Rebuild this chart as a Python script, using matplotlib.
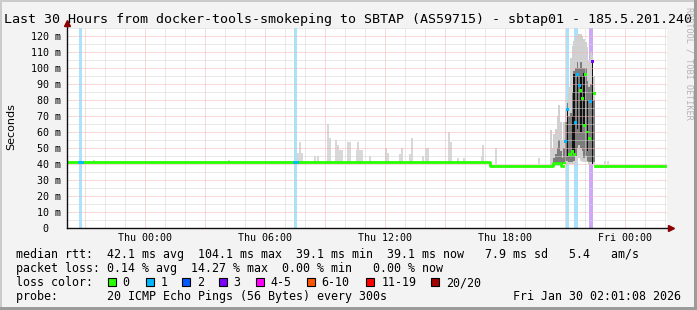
import numpy as np
import matplotlib
matplotlib.use("Agg")
import matplotlib.pyplot as plt
from matplotlib import transforms
from matplotlib.patches import Rectangle

W, H = 697, 310
MONO = "DejaVu Sans Mono"
NAN = float("nan")

title = "Last 30 Hours from docker-tools-smokeping to SBTAP (AS59715) - sbtap01 - 185.5.201.240"

# time is in hours relative to Thu 00:00 (graph runs Wed 20:01 .. Fri 02:01)
x_ticks = [0, 6, 12, 18, 24]
x_tick_labels = ["Thu 00:00", "Thu 06:00", "Thu 12:00", "Thu 18:00", "Fri 00:00"]
y_ticks = [0, 10, 20, 30, 40, 50, 60, 70, 80, 90, 100, 110, 120]

# median rtt (ms), step line outside the storm
median_t = [-3.9, 17.25, 20.38, 20.80, 20.92, 22.48, 26.02]
median_ms = [41.0, 39.0, 40.5, 38.7, NAN, 39.0, 39.0]

# isolated light smoke spikes during quiet hours (top of smoke, ms)
spike_t = [-2.6, 4.15, 7.62, 7.72, 7.80, 8.45, 8.6, 9.1, 9.2, 9.5, 9.6, 9.7, 9.8,
           10.1, 10.2, 10.55, 10.62, 10.7, 10.8, 11.2, 12.0, 12.1, 12.7, 12.8,
           13.2, 13.3, 13.85, 14.0, 14.1, 15.15, 15.25, 15.6, 15.9, 16.8, 16.87,
           17.5, 19.65, 22.95, 23.1]
spike_ms = [42.5, 42.5, 47, 54, 47, 45, 45, 65, 56, 55, 52, 49, 49,
            54, 54, 49, 54, 49, 49, 45, 50, 47, 46, 50,
            46, 56, 45, 50, 50, 60, 54, 44, 44, 45, 52,
            50, 44, 42, 42]

# storm around Thu 20:15 .. 22:30, one entry per 5 min step
storm_t = [20.25, 20.33, 20.42, 20.50, 20.58, 20.67, 20.75, 20.83, 20.92,
           21.00, 21.08, 21.17, 21.25, 21.33, 21.42, 21.50, 21.58, 21.67,
           21.75, 21.83, 21.92, 22.00, 22.08, 22.17, 22.25, 22.33, 22.42]
light_lo = [39, 39, 39, 39, 39, 39, 39, 39, 40, 40, 40, 40, 40, 40, 40, 40, 42, 44,
            42, 41, 41, 41, 41, 40, 40, 40, 40]
light_hi = [61, 50, 59, 62, 70, 77, 66, 55, 66, 74, 80, 88, 106, 114, 117, 120, 121, 121,
            121, 120, 118, 116, 113, 105, 110, 108, 95]
mid_lo = [NAN, NAN, 40, 40, 40, 40, 40, 39, 40, 42, 42, 41, 41, 41, 42, 45, 50, 52,
          50, 48, 44, 45, 42, 41, 41, 41, 41]
mid_hi = [NAN, NAN, 44, 46, 50, 55, 48, 44, 50, 66, 78, 70, 72, 85, 98, 100, 104, 100,
          104, 100, 100, 100, 92, 88, 90, 104, 80]
dark_lo = [NAN, NAN, NAN, NAN, NAN, NAN, NAN, NAN, NAN, NAN, 45, NAN, NAN, 48, 46, NAN, 62, NAN,
           60, NAN, 64, NAN, 48, NAN, NAN, 40, NAN]
dark_hi = [NAN, NAN, NAN, NAN, NAN, NAN, NAN, NAN, NAN, NAN, 74, NAN, NAN, 70, 96, NAN, 96, NAN,
           95, NAN, 97, NAN, 80, NAN, NAN, 104, NAN]
storm_median = [NAN, NAN, NAN, NAN, NAN, NAN, NAN, NAN, 40.6, 54, 74, 46, 46, 48, 46, 66, 96, 89,
                86, 81, 64, 96, 60, 56, 79, 104, 84]
storm_loss = [0, 0, 0, 0, 0, 0, 0, 0, 0, 1, 1, 0, 0, 0, 0, 1, 1, 1,
              0, 0, 0, 0, 0, 0, 1, 3, 0]

# packet loss background bars
loss_t = [-3.32, 7.45, 21.05, 21.45, 22.2]
loss_hours = [0.17, 0.17, 0.17, 0.2, 0.2]
loss_class = [1, 1, 1, 1, 3]
loss_median = [41.0, 41.0, NAN, NAN, NAN]

loss_labels = ["0", "1", "2", "3", "4-5", "6-10", "11-19", "20/20"]
loss_colors = ["#26ff00", "#00b8ff", "#0059ff", "#7e00ff", "#ff00ff", "#ff5500", "#ff0000", "#a10000"]
loss_bg = {1: "#a8e3fb", 3: "#cca8f8"}

legend_lines = [
    "median rtt:  42.1 ms avg  104.1 ms max  39.1 ms min  39.1 ms now   7.9 ms sd   5.4   am/s",
    "packet loss: 0.14 % avg  14.27 % max  0.00 % min   0.00 % now",
    "loss color:",
    "probe:       20 ICMP Echo Pings (56 Bytes) every 300s",
]
timestamp = "Fri Jan 30 02:01:08 2026"


def fx(px):
    return px / W


def fy(py):
    return 1 - py / H


fig = plt.figure(figsize=(W / 100, H / 100), dpi=100, facecolor="#f3f3f3")
fig.patches.append(Rectangle((0, fy(2)), 1, 2 / H, transform=fig.transFigure, color="#cbcbcb", lw=0))
fig.patches.append(Rectangle((0, 0), 2 / W, 1, transform=fig.transFigure, color="#cbcbcb", lw=0))
fig.patches.append(Rectangle((0, 0), 1, 3 / H, transform=fig.transFigure, color="#9b9b9b", lw=0))
fig.patches.append(Rectangle((1 - 3 / W, 0), 3 / W, 1, transform=fig.transFigure, color="#9b9b9b", lw=0))

x0, x1 = -3.9, 26.1
ax = fig.add_axes([fx(67), fy(228), fx(667) - fx(67), fy(28) - fy(228)])
ax.set_facecolor("white")
ax.set_xlim(x0, x1)
ax.set_ylim(0, 125)
for s in ax.spines.values():
    s.set_visible(False)
ax.set_xticks(range(-3, 27, 3))
ax.set_xticks(range(-3, 27), minor=True)
ax.set_yticks(y_ticks)
ax.set_yticks(range(5, 130, 10), minor=True)
ax.tick_params(which="both", length=0, labelbottom=False, labelleft=False)
ax.set_axisbelow(False)
ax.grid(which="minor", color="#d4d4d4", lw=0.72, linestyle=(0, (1, 1)))
ax.grid(which="major", color="#f0b4b4", lw=0.72, linestyle=(0, (1, 1)))

# loss bars
for t, w, c in zip(loss_t, loss_hours, loss_class):
    ax.axvspan(t, t + w, color=loss_bg[c], lw=0, zorder=0.5)

# smoke
step = 1 / 12
ax.bar(spike_t, np.array(spike_ms) - 40, bottom=40, width=0.1, align="edge", color="#d8d8d8", lw=0, zorder=1)
lo, hi = np.array(light_lo), np.array(light_hi)
ax.bar(storm_t, hi - lo, bottom=lo, width=step, align="edge", color="#d0d0d0", lw=0, zorder=1)
lo, hi = np.array(mid_lo), np.array(mid_hi)
ax.bar(storm_t, hi - lo, bottom=lo, width=step, align="edge", color="#7c7c7c", lw=0, zorder=1.1)
lo, hi = np.array(dark_lo), np.array(dark_hi)
ax.bar(storm_t, hi - lo, bottom=lo, width=step, align="edge", color="#111111", lw=0, zorder=1.2)

# median
ax.step(median_t, median_ms, where="post", color=loss_colors[0], lw=2.0, zorder=3)
for t, w, c, m in zip(loss_t, loss_hours, loss_class, loss_median):
    if not np.isnan(m):
        ax.plot([t, t + w], [m, m], color=loss_colors[c], lw=2.0, zorder=3.1)
ax.scatter(np.array(storm_t) + step / 2, storm_median, marker="s", s=4, lw=0,
           c=[loss_colors[k] for k in storm_loss], zorder=4)

# axes with arrows
ax.plot([x0, 26.25], [0, 0], color="#101010", lw=1.0, clip_on=False, zorder=5)
ax.plot([x0, x0], [0, 128.5], color="#101010", lw=1.0, clip_on=False, zorder=5)
ax.plot(26.3, 0, marker=">", ms=4, color="#8b0000", clip_on=False, zorder=6)
ax.plot(x0, 128.3, marker="^", ms=4, color="#8b0000", clip_on=False, zorder=6)

# tick labels
tx = transforms.blended_transform_factory(ax.transData, fig.transFigure)
for t, lab in zip(x_ticks, x_tick_labels):
    ax.text(t, fy(240.7), lab, transform=tx, ha="center", va="baseline", family=MONO, fontsize=7.2)
ty = transforms.offset_copy(transforms.blended_transform_factory(fig.transFigure, ax.transData),
                            fig=fig, y=-3.6, units="dots")
for v in y_ticks:
    if v == 0:
        fig.text(fx(48), v, "0", transform=ty, ha="right", va="baseline", family=MONO, fontsize=7.2)
    else:
        fig.text(fx(60.5), v, f"{v} m", transform=ty, ha="right", va="baseline", family=MONO, fontsize=7.2)

fig.text(fx(11), fy(127), "Seconds", rotation=90, ha="center", va="center", fontsize=8)
fig.text(0.5, fy(23), title, ha="center", va="baseline", family=MONO, fontsize=9.6)
fig.text(fx(689), fy(63), "RRDTOOL / TOBI OETIKER", rotation=270, ha="center", va="center",
         family=MONO, fontsize=6.1, color="#b4b4b4")

# legend
for i, line in enumerate(legend_lines):
    fig.text(fx(15.5), fy(258 + 14 * i), line, ha="left", va="baseline", family=MONO, fontsize=8.4)
fig.text(fx(681), fy(300), timestamp, ha="right", va="baseline", family=MONO, fontsize=8.4)

box_x = [108, 146, 182, 219, 256, 307, 366, 431]
label_x = [122.5, 160.5, 197.5, 233.5, 270.5, 321.5, 381.5, 446.5]
for bx, lx, col, lab in zip(box_x, label_x, loss_colors, loss_labels):
    fig.patches.append(Rectangle((fx(bx), fy(286)), 8 / W, 8 / H, transform=fig.transFigure,
                                 facecolor=col, edgecolor="black", lw=0.8))
    fig.text(fx(lx), fy(286), lab, ha="left", va="baseline", family=MONO, fontsize=8.4)

fig.savefig("out.png", dpi=100, facecolor=fig.get_facecolor())
